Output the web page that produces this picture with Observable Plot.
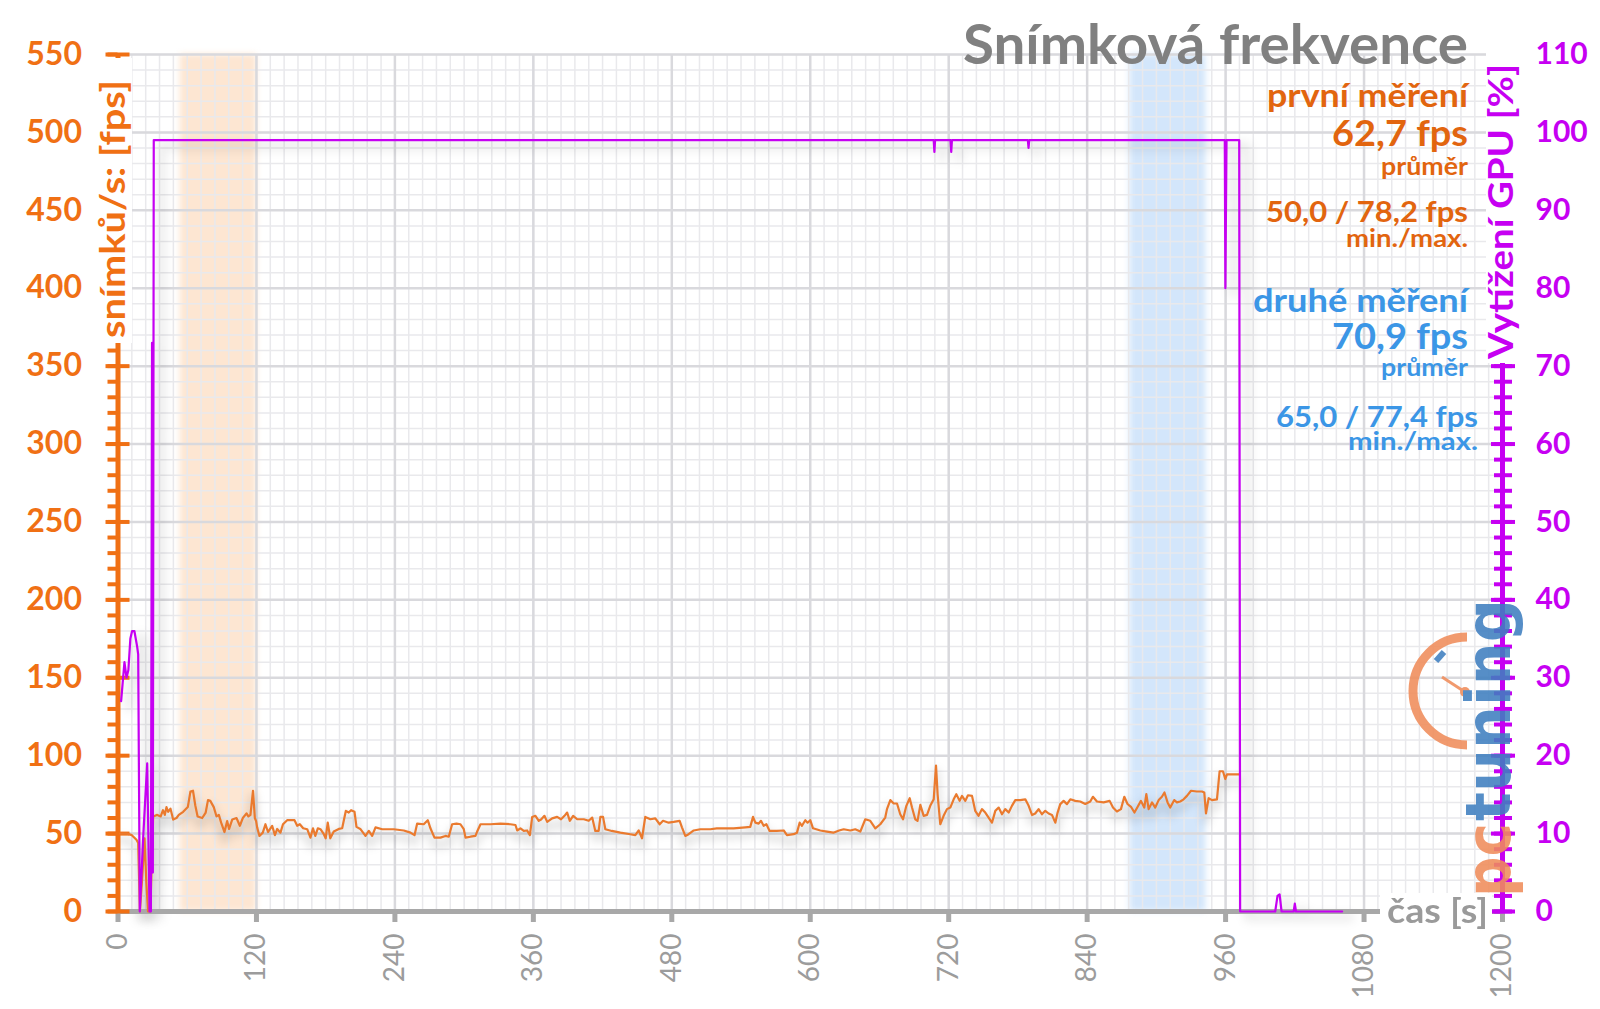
<!DOCTYPE html>
<html><head><meta charset="utf-8">
<script src="https://cdn.jsdelivr.net/npm/d3@7"></script>
<script src="https://cdn.jsdelivr.net/npm/@observablehq/plot@0.6"></script>
<style>
body{margin:0;background:#fff;}
#chart{position:relative;width:1600px;height:1009px;overflow:hidden;}
</style>
</head><body><div id="chart"></div>
<script>
// ---------- data ----------
const fpsTime = [2,8,12,16,17.5,19,21,23,24.5,26,28,29.5,30.5,
34,37,39,40.6,42,43.5,45.5,47.8,50.7,52.7,56.5,60.5,62.8,65,67,69,73,76,78,80,83,85.4,87.4,89.4,92.3,94.6,96.3,99,102.7,105.6,108.2,111.4,113,114.8,117,118.6,119.7,120.6,122.6,125.5,127.8,130,133.6,136,138,140.8,143,146.6,153,155.3,157.6,160.5,164,166.8,169,171,173.2,175.5,178.4,180,181.8,184,187,191.4,194.3,197.5,200,202,205,206.7,210,
214.5,217.4,220.3,223.2,229,239,247.7,253.5,257,259.3,265,268.5,270.8,274.3,279.5,283.8,286.7,289.6,293.4,296.8,299.7,301.2,305.5,309.8,311.3,314.2,322.8,331.5,340,344.5,346,348.8,351.7,354.6,357,359,361.8,364.7,366.7,369.6,372,376.3,380.6,384,387,389.3,391.6,394.5,398,403.7,408,411,413.7,416.6,418.1,420.4,422.4,428,435.4,444,448.4,451.3,454.2,457,461.4,465.7,469.5,472.4,477.3,481.6,486.8,488.8,491.7,494.6,499,504.7,513.4,519,525,533.6,543.7,548,550.4,552.4,555.3,557.3,559.6,562,564.8,571,577,579.8,585.6,588.5,590.8,592.8,595.7,597.7,600,602.4,608.7,614.5,620,625,629,634.7,639,643.4,647.7,652,656.4,660.7,665,666.5,669.4,672.3,675.2,678,680.4,683.3,686.2,688.2,691,693,695.4,698.3,701.2,704,707,709,710.4,712.7,715.6,718.5,721.4,724.3,726.6,729.5,731.5,734.4,736.7,740.2,743,745.9,748.8,751.7,754.6,757.5,760.4,763.3,766.2,769,772,774.8,777.7,782,786.4,789.3,792.2,795,797.9,800.8,803.7,806.6,809.5,812.4,814.4,816.7,819.6,822.5,825.4,829.7,834,838.4,842.7,845,848.5,854.3,859.5,862.4,865.8,869.3,872.2,875,878,881,883.8,886.6,889.5,891.3,893.3,896.2,899,902,904.8,907,909.7,912,915.5,917.8,920.7,923.6,926.5,930,935,939.5,941.5,943,945.3,948.2,952.5,954.8,957.7,959.7,961.2,967,972];
const fpsValue = [50,50,49,46,44,0,22,47,20,0,0,38,61,
62,61,65,62,67,64,66,59,60,62,64,67,77,77.5,68,61,60,63.5,71.5,71,67,61,62,57,51,58,53,59,60,55,60,63,61,62,77.5,60,58,54,48.5,50.6,56,51,55,49,53,50.6,56,58.6,58.6,55,56,53.4,52.8,47.4,53.4,48.5,53.4,52.8,49.6,47,57,47,51.3,53,53.4,64.6,63.5,65,64,54.3,53,
48.5,51.7,48.5,54,52.8,52.8,52,50.6,49,56.4,56,58.6,53.4,47.4,47.4,48.5,48,56,56.4,56,52.8,47.4,48,48.5,51.3,56,56,56.4,56,55.5,52,53.4,51.7,52,49,60.7,61.4,58.2,59,61.4,57.5,59.8,60.7,59.2,61.4,63.5,58.2,61.4,59.2,59.2,58.2,60.3,51.7,51.7,60.7,60.7,52.8,51.7,50.6,49.6,49,52,47,60.7,59.2,59.8,56,58.2,57,57.5,58.2,54,48.5,49.6,52,52.8,52.8,53.4,53.4,53.4,54,54.3,60.7,57,56.4,58.2,55,56,51.7,51.7,52,49,49.6,50.6,57,55,58.6,57,58.6,53.4,52,51.3,50.6,52,52.8,52,52.8,51.3,59.2,58.2,53.4,56,60.3,65.7,71.5,69.3,69.3,62.4,59.2,67.8,72.7,66.7,59.2,58.2,68.4,61.4,62,67.8,72,93.6,75,56,61.4,65.7,66.7,72,75.3,71,74.2,71,74.6,74.2,64.6,61.4,65.7,63.5,60.3,57,64.6,66.7,62.4,65.7,63.5,67.8,71.5,71.5,72,67.8,62,62.9,65.7,62.4,64.6,62.9,62,57,63.5,68.9,71,68.9,72,71,70.6,69,70.6,73.6,70.6,70,71,66.7,64.2,65.7,73.6,69,67.2,63.5,67.2,71,66.7,75.3,65.7,70,66.7,71.5,73.6,76.4,70,66.7,71.5,70,70.6,72,74.2,77.5,77,77,76.4,63,72.7,71.5,72,90,90,85,88,88,88];

const gpuTime = [2.7,5.6,7.4,9,10.7,12.2,14.2,16.6,17.5,18.9,22,25.3,26.5,27.3,28.5,29.5,30.2,31,
707,707.6,708.2,721.6,722.2,722.8,788.6,789.2,789.8,959.3,959.8,960.8,971.8,972.6,1003,1005,1006.8,1008.5,1019,1020,1021,1061];
const gpuValue = [27,32,30,31,35,36,36,34,33,0,10,19,8,0,0,73,5,99,
99,97.5,99,99,97.5,99,99,98,99,99,80,99,99,0,0,2,2.2,0,0,1,0,0];

const fpsTicks = [0,50,100,150,200,250,300,350,400,450,500,550];
const gpuTicks = [0,10,20,30,40,50,60,70,80,90,100,110];
const timeTicks = [0,120,240,360,480,600,720,840,960,1080,1200];
const bandStart = [54, 877];
const bandEnd = [120, 943];
const bandName = ["první měření", "druhé měření"];

// ---------- styling ----------
const ORANGE = "#f07014", ORANGE_TXT = "#e2650f", LINE_OR = "#ea7a2e";
const PURPLE = "#c600f2", BLUE = "#3b96e6", GRAY = "#a8a8a8";
const FONT = "Lato, 'Open Sans', 'DejaVu Sans', sans-serif";

const fps = fpsTime.map((t, i) => ({t, v: fpsValue[i]}));
const gpu = gpuTime.map((t, i) => ({t, v: gpuValue[i] * 5}));   // GPU % on the 0–550 fps scale (110 % ↔ 550)
const bands = bandStart.map((s, i) => ({from: s, to: bandEnd[i], name: bandName[i], color: i === 0 ? "#fde6d2" : "#d3e6fb"}));

const minorX = d3.range(0, 1201, 12);
const minorY = d3.range(0, 551, 10);

const plot = Plot.plot({
  width: 1600, height: 1009,
  marginLeft: 117.5, marginRight: 98, marginTop: 54, marginBottom: 98,
  x: {domain: [0, 1200], label: null},
  y: {domain: [0, 550], label: null},
  color: {type: "identity"},
  style: {fontFamily: FONT, background: "white", overflow: "visible"},
  marks: [
    Plot.rect(bands, {x1: "from", x2: "to", y1: 0, y2: 550, fill: "color"}),
    Plot.gridX(minorX, {stroke: "#e9e9ec", strokeWidth: 1.5, strokeOpacity: 1}),
    Plot.gridY(minorY, {stroke: "#e9e9ec", strokeWidth: 1.5, strokeOpacity: 1}),
    Plot.gridX(timeTicks, {stroke: "#d9d9dd", strokeWidth: 2.5, strokeOpacity: 1}),
    Plot.gridY(fpsTicks, {stroke: "#d9d9dd", strokeWidth: 2.5, strokeOpacity: 1}),
    // shadows
    Plot.line(fps, {x: "t", y: "v", stroke: "#000", strokeOpacity: 0.10, strokeWidth: 8, dy: 7}),
    Plot.line(gpu, {x: "t", y: "v", stroke: "#000", strokeOpacity: 0.08, strokeWidth: 8, dx: 8, dy: 6}),
    // axis lines and ticks
    Plot.ruleY([0], {stroke: GRAY, strokeWidth: 5}),
    Plot.axisX({ticks: timeTicks, tickSize: 11, stroke: GRAY, strokeWidth: 5, fill: "none", label: null}),
    Plot.ruleX([0], {stroke: ORANGE, strokeWidth: 5}),
    Plot.axisY({anchor: "left", ticks: minorY, tickSize: 10, stroke: ORANGE, strokeWidth: 4, fill: "none", label: null}),
    Plot.axisY({anchor: "left", ticks: fpsTicks, tickSize: 24, dx: 12, stroke: ORANGE, strokeWidth: 4, fill: "none", label: null}),
    Plot.ruleX([1200], {stroke: PURPLE, strokeWidth: 5}),
    Plot.axisY({anchor: "right", ticks: minorY, tickSize: 18, dx: -9, stroke: PURPLE, strokeWidth: 4, fill: "none", label: null}),
    Plot.axisY({anchor: "right", ticks: fpsTicks, tickSize: 24, dx: -12, stroke: PURPLE, strokeWidth: 4, fill: "none", label: null}),
    // data
    Plot.line(fps, {x: "t", y: "v", stroke: LINE_OR, strokeWidth: 2.2, strokeLinejoin: "round"}),
    Plot.line(gpu, {x: "t", y: "v", stroke: PURPLE, strokeWidth: 2.2, strokeLinejoin: "round"}),
    // tick labels
    Plot.axisX({ticks: timeTicks, tickFormat: d => String(d), tickSize: 0, tickPadding: 22, tickRotate: -90, fontSize: 28, fill: "#9c9c9c", label: null}),
    Plot.axisY({anchor: "left", ticks: fpsTicks, tickFormat: d => String(d), tickSize: 0, tickPadding: 36, fontSize: 32, fontWeight: "bold", fill: ORANGE, label: null}),
    Plot.axisY({anchor: "right", ticks: gpuTicks.map(g => g * 5), tickFormat: d => String(d / 5), tickSize: 0, tickPadding: 33, fontSize: 30, fontWeight: "bold", fill: PURPLE, label: null})
  ]
});

document.getElementById("chart").appendChild(plot);
const svg = d3.select(plot);

// soft edges for bands & shadows
svg.selectAll('g[aria-label="rect"]').style("filter", "blur(3px)");
const lines = svg.selectAll('g[aria-label="line"]').nodes();
d3.select(lines[0]).style("filter", "blur(4px)");
d3.select(lines[1]).style("filter", "blur(5px)");

// logo watermark
const logo = svg.append("g").attr("opacity", 0.88).attr("text-anchor", "start");
logo.append("path").attr("d", "M 1467 637 A 54 54 0 0 0 1467 745").attr("fill", "none")
  .attr("stroke", "#f08c5a").attr("stroke-width", 9);
logo.append("line").attr("x1", 1436).attr("y1", 661).attr("x2", 1444).attr("y2", 652)
  .attr("stroke", "#3f7fc0").attr("stroke-width", 6);
logo.append("line").attr("x1", 1442).attr("y1", 677).attr("x2", 1465).attr("y2", 692)
  .attr("stroke", "#f08c5a").attr("stroke-width", 3);
logo.append("circle").attr("cx", 1465).attr("cy", 692).attr("r", 5).attr("fill", "#f08c5a");
logo.append("text").attr("transform", "translate(1510,897) rotate(-90)").attr("text-anchor", "start")
  .attr("font-family", "'DejaVu Sans', sans-serif").attr("font-size", 62).attr("font-weight", "bold")
  .attr("textLength", 74).attr("lengthAdjust", "spacingAndGlyphs").attr("fill", "#f08c5a").text("pc");
logo.append("text").attr("transform", "translate(1510,821) rotate(-90)").attr("text-anchor", "start")
  .attr("font-family", "'DejaVu Sans', sans-serif").attr("font-size", 62).attr("font-weight", "bold")
  .attr("textLength", 222).attr("lengthAdjust", "spacingAndGlyphs").attr("fill", "#3f7fc0").text("tuning");

const ann = svg.append("g").attr("font-family", FONT).attr("font-weight", "bold");

function txt(s, x, y, size, color, len, anchor = "end") {
  const t = ann.append("text").attr("x", x).attr("y", y).attr("font-size", size)
    .attr("fill", color).attr("text-anchor", anchor).text(s);
  if (len) t.attr("textLength", len).attr("lengthAdjust", "spacingAndGlyphs");
  return t;
}

// title & summary
txt("Snímková frekvence", 1468, 64, 55, "#808080", 505);
txt("první měření", 1468, 107, 32, ORANGE_TXT, 201);
txt("62,7 fps", 1468, 146, 36, ORANGE_TXT, 136);
txt("průměr", 1468, 175, 25, ORANGE_TXT, 87);
txt("50,0 / 78,2 fps", 1468, 222, 29, ORANGE_TXT, 202);
txt("min./max.", 1468, 247, 24, ORANGE_TXT, 122);
txt("druhé měření", 1468, 312, 32, BLUE, 215);
txt("70,9 fps", 1468, 349, 36, BLUE, 136);
txt("průměr", 1468, 376, 25, BLUE, 87);
txt("65,0 / 77,4 fps", 1478, 427, 29, BLUE, 202);
txt("min./max.", 1478, 450, 24, BLUE, 130);

// axis titles with white backing
ann.append("rect").attr("x", 96).attr("y", 58).attr("width", 36).attr("height", 285).attr("fill", "white");
ann.append("text").attr("transform", "translate(125,80) rotate(-90)").attr("text-anchor", "end")
  .attr("font-size", 34).attr("textLength", 258).attr("lengthAdjust", "spacingAndGlyphs")
  .attr("fill", ORANGE).text("snímků/s: [fps]");
ann.append("rect").attr("x", 1486).attr("y", 48).attr("width", 36).attr("height", 315).attr("fill", "white");
ann.append("text").attr("transform", "translate(1513,64) rotate(-90)").attr("text-anchor", "end")
  .attr("font-size", 34).attr("textLength", 295).attr("lengthAdjust", "spacingAndGlyphs")
  .attr("fill", PURPLE).text("Vytížení GPU [%]");
ann.append("rect").attr("x", 1380).attr("y", 893).attr("width", 112).attr("height", 36).attr("fill", "white");
txt("čas [s]", 1387, 923, 34, "#9a9a9a", 101, "start");
</script>
</body></html>
